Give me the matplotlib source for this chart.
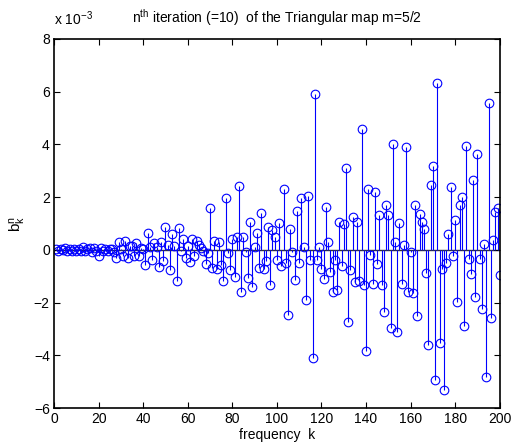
import numpy as np
import matplotlib
matplotlib.use('Agg')
import matplotlib.pyplot as plt

plt.rcParams['font.family'] = ['Liberation Sans', 'DejaVu Sans']
plt.rcParams['mathtext.fontset'] = 'custom'
plt.rcParams['mathtext.rm'] = 'Liberation Sans'
plt.rcParams['mathtext.it'] = 'Liberation Sans'

# frequency index
k = np.arange(1, 201)

# coefficients b_k^n (in units of 1e-3)
b_1_50 = [0.02, -0.03, 0.04, -0.02, 0.06, -0.04, 0.03, -0.05, 0.05, -0.03,
          0.04, -0.06, 0.12, -0.04, 0.05, 0.08, -0.10, 0.06, -0.05, -0.22,
          0.08, -0.04, 0.05, -0.06, 0.04, 0.02, -0.08, -0.31, 0.30, 0.05,
          -0.25, 0.34, -0.30, 0.13, 0.15, -0.22, 0.27, -0.25, 0.06, 0.02,
          -0.59, 0.63, 0.10, -0.40, 0.25, 0.12, -0.64, 0.28, -0.44, 0.85]
b_51_100 = [0.19, -0.75, 0.59, 0.13, -1.19, 0.84, -0.06, 0.40, -0.30, 0.15,
            -0.46, 0.40, -0.25, 0.35, 0.19, 0.06, -0.05, -0.53, -0.13, 1.57,
            -0.69, 0.35, -0.73, 0.28, -0.56, -1.19, 1.98, -0.11, -0.75, 0.40,
            -1.03, 0.50, 2.41, -1.60, 0.47, -0.10, -1.07, 1.06, -1.40, 0.12,
            0.65, -0.69, 1.40, -0.73, -0.44, 0.88, -1.32, 0.75, 0.50, -0.38]
b_101_150 = [1.03, -0.63, 2.32, -0.48, -2.48, 0.78, -0.10, -1.13, 1.48, -0.48,
             1.98, 0.10, -1.92, 2.03, -0.38, -4.11, 5.93, -0.38, 0.09, -0.73,
             -1.09, 1.63, 0.31, -0.84, -1.60, -0.38, -1.54, 1.07, -0.60, 0.97,
             3.09, -2.72, -0.75, 1.25, -1.23, 1.04, -1.19, 4.57, -1.34, -3.82,
             2.29, -0.21, -1.28, 2.19, -0.54, 1.32, -1.35, -2.36, 1.72, 1.32]
b_151_200 = [-2.98, 4.01, 0.29, -3.13, 1.03, -1.28, 0.19, 3.91, -1.59, -0.09,
             -1.63, 1.72, -2.51, 1.35, 1.04, 0.78, -0.88, -3.61, 2.46, 3.19,
             -4.95, 6.32, -3.53, -0.71, -5.33, -0.50, 0.59, 2.39, -0.25, 1.15,
             -1.97, 1.72, 2.00, -2.88, 3.93, -0.35, -0.91, 2.66, -1.79, 3.63,
             -0.34, -2.23, 0.21, -4.82, 5.59, -2.57, 0.38, 1.44, 1.57, -0.96]
b = np.array(b_1_50 + b_51_100 + b_101_150 + b_151_200)

xticks = [0, 20, 40, 60, 80, 100, 120, 140, 160, 180, 200]
yticks = [-6, -4, -2, 0, 2, 4, 6, 8]

fig = plt.figure(figsize=(5.11, 4.46), dpi=100)
ax = fig.add_axes([0.1057, 0.0852, 0.8723, 0.8274])

ax.axhline(0, color='#333333', lw=1.0, zorder=1)
ml, sl, bl = ax.stem(k, b, linefmt='b-', markerfmt='o', basefmt=' ')
plt.setp(sl, linewidth=0.8, color='#0000ff')
plt.setp(ml, markersize=6.2, markerfacecolor='none', markeredgecolor='#0000ff', markeredgewidth=0.8)

ax.set_xlim(0, 200)
ax.set_ylim(-6, 8)
ax.set_xticks(xticks)
ax.set_yticks(yticks)
ax.tick_params(direction='in', top=True, right=True, labelsize=10, length=4, width=0.8, pad=3)
for s in ax.spines.values():
    s.set_linewidth(1.2)

ax.text(0.0, 1.03, r'x 10$^{-3}$', transform=ax.transAxes, fontsize=10, ha='left', va='bottom')
ax.set_title(r'n$^{\mathrm{th}}$ iteration (=10)  of the Triangular map m=5/2', fontsize=10, pad=12)
ax.set_xlabel('frequency  k', fontsize=10, labelpad=1)
ax.set_ylabel(r'b$_{\mathrm{k}}^{\mathrm{n}}$', fontsize=11, labelpad=4)

fig.savefig('out.png', dpi=100)
